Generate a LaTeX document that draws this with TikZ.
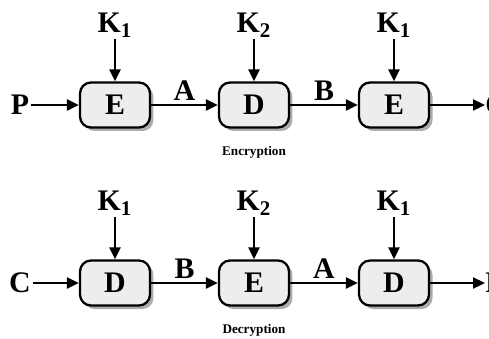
\documentclass[tikz,border=0pt]{standalone}
\usepackage{fontspec}
\setmainfont{Liberation Serif}
\usetikzlibrary{arrows.meta,shadows}
\tikzset{
  stage/.style={draw,line width=1.3pt,rounded corners=2.2mm,fill=gray!14,
    minimum width=1.4cm,minimum height=0.9cm,font=\fontsize{17}{19}\selectfont\bfseries,
    drop shadow={shadow xshift=0.7mm,shadow yshift=-0.7mm,fill=gray!65,opacity=1}},
  flow/.style={line width=1.3pt,-{Triangle[length=2.4mm,width=2.2mm]}},
  lbl/.style={font=\fontsize{17}{19}\selectfont\bfseries,inner sep=1pt},
  rowtitle/.style={font=\fontsize{7.5}{8}\selectfont\bfseries},
}
% #1 prefix, #2 input, #3 output, #4-#6 stages, #7 #8 intermediate values, #9 caption
\newcommand{\triplerow}[9]{
\node [lbl] (#1in) at (20,0) {#2};
\node [stage] (#1s1) at (115,0) {#4};
\node [stage] (#1s2) at (254,0) {#5};
\node [stage] (#1s3) at (394,0) {#6};
\node [lbl,anchor=west,inner sep=0pt] (#1out) at (485,0) {#3};
\node [lbl] (#1k1) at (115,80) {K\textsubscript{1}};
\node [lbl] (#1k2) at (254,80) {K\textsubscript{2}};
\node [lbl] (#1k3) at (394,80) {K\textsubscript{1}};
\node [rowtitle] (#1title) at (254,-47) {#9};
\draw [flow] (#1in) -- (#1s1);
\draw [flow] (#1s1) -- node[lbl,above=1pt] {#7} (#1s2);
\draw [flow] (#1s2) -- node[lbl,above=1pt] {#8} (#1s3);
\draw [flow] (#1s3) -- (#1out);
\draw [flow] (#1k1) -- (#1s1);
\draw [flow] (#1k2) -- (#1s2);
\draw [flow] (#1k3) -- (#1s3);
}
\begin{document}
\begin{tikzpicture}[x=0.02cm,y=0.02cm]
\useasboundingbox (0,0) rectangle (489,-338);
\begin{scope}[shift={(0,-105)}]
\triplerow{enc}{P}{C}{E}{D}{E}{A}{B}{Encryption}
\end{scope}
\begin{scope}[shift={(0,-283)}]
\triplerow{dec}{C}{P}{D}{E}{D}{B}{A}{Decryption}
\end{scope}
\end{tikzpicture}
\end{document}
